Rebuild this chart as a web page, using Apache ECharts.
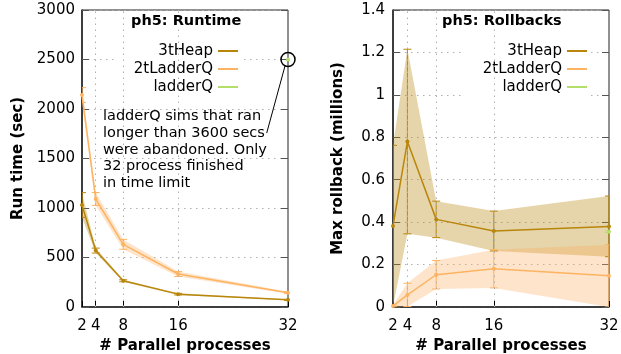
<!DOCTYPE html>
<html><head><meta charset="utf-8">
<script src="https://cdn.jsdelivr.net/npm/echarts@6/dist/echarts.min.js"></script>
<style>html,body{margin:0;padding:0;background:#fff}#c{width:621px;height:354px}</style>
</head><body><div id="c"></div>
<script>
// ---- data ----
const procs = [2, 4, 8, 16, 32];
const xTicks = [2, 4, 8, 16, 32];
const seriesNames = ['3tHeap', '2tLadderQ', 'ladderQ'];
// Runtime (sec)
const rtHeap = [1030, 570, 265, 130, 72];
const rtHeapErr = [125, 25, 10, 8, 5];
const rtLadder2 = [2141, 1091, 633, 333, 145];
const rtLadder2Err = [75, 65, 50, 25, 10];
const rtLadderQX = [32];
const rtLadderQ = [2500];
// Rollbacks (millions)
const rbHeap = [0.382, 0.78, 0.413, 0.358, 0.38];
const rbHeapErr = [0.38, 0.435, 0.086, 0.094, 0.143];
const rbLadder2 = [0.005, 0.057, 0.152, 0.18, 0.147];
const rbLadder2Err = [0.005, 0.055, 0.067, 0.09, 0.147];
const rbLadderQX = [32];
const rbLadderQ = [0.355];
const rbLadderQErr = [0.004];
// annotation (data space)
const arrowFrom = [28.9, 1757];
const arrowTo = [31.6, 2444];
const noteLines = ['ladderQ sims that ran', 'longer than 3600 secs', 'were abandoned. Only', '32 process finished', 'in time limit'];

const FONT = 'DejaVu Sans';
const C_HEAP = '#b8860b', C_L2 = '#fdb462', C_LQ = '#b3de69';
const B_HEAP = 'rgba(184,134,11,0.35)', B_L2 = 'rgba(253,170,90,0.32)';
const GRID_DASH = {color: '#b0b0b0', type: [1.5, 4.5], width: 1};

function bandSeries(xs, ys, es, color, g) {
  const data = xs.map((x, i) => [x, ys[i] - es[i], ys[i] + es[i]]);
  return {type: 'custom', xAxisIndex: g, yAxisIndex: g * 2, clip: true, silent: true, z: 1,
    encode: {x: 0, y: [1, 2]}, data,
    renderItem(params, api) {
      if (params.dataIndex !== 0) return null;
      const up = data.map(d => api.coord([d[0], d[2]]));
      const lo = data.map(d => api.coord([d[0], d[1]])).reverse();
      return {type: 'polygon', shape: {points: up.concat(lo)}, style: {fill: color}};
    }};
}
function errSeries(xs, ys, es, color, g) {
  return {type: 'custom', xAxisIndex: g, yAxisIndex: g * 2, clip: true, silent: true, z: 3,
    encode: {x: 0, y: [1, 2]},
    data: xs.map((x, i) => [x, ys[i] - es[i], ys[i] + es[i]]),
    renderItem(params, api) {
      const lo = api.coord([api.value(0), api.value(1)]);
      const hi = api.coord([api.value(0), api.value(2)]);
      const w = 4, st = {stroke: color, lineWidth: 1};
      return {type: 'group', children: [
        {type: 'line', shape: {x1: lo[0], y1: lo[1], x2: hi[0], y2: hi[1]}, style: st},
        {type: 'line', shape: {x1: lo[0] - w, y1: lo[1], x2: lo[0] + w, y2: lo[1]}, style: st},
        {type: 'line', shape: {x1: hi[0] - w, y1: hi[1], x2: hi[0] + w, y2: hi[1]}, style: st}
      ]};
    }};
}
function lineSeries(name, xs, ys, color, g, extra) {
  return Object.assign({type: 'line', name, xAxisIndex: g, yAxisIndex: g * 2, z: 5,
    data: xs.map((x, i) => [x, ys[i]]), symbol: 'circle', symbolSize: 4, showSymbol: true,
    color, lineStyle: {color, width: 1.5}, itemStyle: {color}, emphasis: {disabled: true}, animation: false}, extra || {});
}
// vertical dotted grid lines at the inner x ticks
function vGridSeries(g) {
  return {type: 'line', xAxisIndex: g, yAxisIndex: g * 2, data: [], silent: true, z: 0,
    markLine: {silent: true, symbol: ['none', 'none'], label: {show: false}, animation: false,
      lineStyle: GRID_DASH, emphasis: {disabled: true},
      data: xTicks.slice(1, -1).map(v => ({xAxis: v}))}};
}

const grids = [
  {left: 82, right: 333, top: 10, bottom: 47},
  {left: 393, right: 12, top: 10, bottom: 47}
];
function xAxis(g) {
  return {type: 'value', gridIndex: g, min: 2, max: 32,
    name: '# Parallel processes', nameLocation: 'middle', nameGap: 29,
    nameTextStyle: {fontFamily: FONT, fontSize: 15, fontWeight: 'bold', color: '#000'},
    axisLine: {show: true, lineStyle: {color: '#222', width: 1.5}},
    axisTick: {show: true, inside: true, length: 6, customValues: xTicks, lineStyle: {color: '#000'}},
    axisLabel: {customValues: xTicks, fontFamily: FONT, fontSize: 15, color: '#000', margin: 12},
    splitLine: {show: false}};
}
function yAxis(g, name, max, interval, nameGap, margin) {
  return [{type: 'value', gridIndex: g, min: 0, max, interval, position: 'left',
    name, nameLocation: 'middle', nameGap,
    nameTextStyle: {fontFamily: FONT, fontSize: 15, fontWeight: 'bold', color: '#000'},
    axisLine: {show: true, lineStyle: {color: '#222', width: 1.5}},
    axisTick: {show: true, inside: true, length: 7, lineStyle: {color: '#555'}},
    axisLabel: {fontFamily: FONT, fontSize: 15, color: '#000', margin,
      formatter: v => String(+(+v).toFixed(2))},
    splitLine: {show: true, lineStyle: GRID_DASH}},
   {type: 'value', gridIndex: g, min: 0, max, interval, position: 'right',
    axisLine: {show: false}, axisLabel: {show: false}, splitLine: {show: false},
    axisTick: {show: true, inside: true, length: 7, lineStyle: {color: '#555'}}}];
}

const legendCommon = {data: seriesNames, orient: 'vertical', align: 'right', top: 42,
  itemWidth: 20, itemHeight: 2, icon: 'rect', itemGap: 0, padding: [0, 2, 0, 2],
  backgroundColor: '#fff', selectedMode: false,
  textStyle: {fontFamily: FONT, fontSize: 15, color: '#000', lineHeight: 18, width: 95, align: 'right'}};

const chart = echarts.init(document.getElementById('c'), null, {renderer: 'canvas'});
chart.setOption({
  animation: false,
  backgroundColor: '#fff',
  grid: grids.map(g => Object.assign({show: true, borderColor: '#222', borderWidth: 1,
    backgroundColor: 'transparent', containLabel: false, outerBoundsMode: 'none'}, g)),
  title: [
    {text: 'ph5: Runtime', left: 129, top: 14, padding: [0, 2], backgroundColor: '#fff',
      textStyle: {fontFamily: FONT, fontSize: 14.5, fontWeight: 'bold', color: '#000'}},
    {text: 'ph5: Rollbacks', left: 440, top: 14, padding: [0, 2], backgroundColor: '#fff',
      textStyle: {fontFamily: FONT, fontSize: 14.5, fontWeight: 'bold', color: '#000'}}
  ],
  legend: [Object.assign({right: 381}, legendCommon), Object.assign({right: 32}, legendCommon)],
  xAxis: [xAxis(0), xAxis(1)],
  yAxis: [].concat(yAxis(0, 'Run time (sec)', 3000, 500, 56, 7), yAxis(1, 'Max rollback (millions)', 1.4, 0.2, 47, 8)),
  graphic: [{type: 'text', left: 103, top: 108, z: 10,
    style: {text: noteLines.join('\n'), font: '14.5px "DejaVu Sans"', lineHeight: 16.7, fill: '#000'}}],
  series: [
    vGridSeries(0),
    vGridSeries(1),
    bandSeries(procs, rtLadder2, rtLadder2Err, B_L2, 0),
    bandSeries(procs, rtHeap, rtHeapErr, B_HEAP, 0),
    errSeries(procs, rtHeap, rtHeapErr, C_HEAP, 0),
    errSeries(procs, rtLadder2, rtLadder2Err, C_L2, 0),
    lineSeries('3tHeap', procs, rtHeap, C_HEAP, 0),
    lineSeries('2tLadderQ', procs, rtLadder2, C_L2, 0),
    lineSeries('ladderQ', rtLadderQX, rtLadderQ, C_LQ, 0, {
      markPoint: {silent: true, symbol: 'circle', symbolSize: 14, label: {show: false},
        itemStyle: {color: 'rgba(0,0,0,0)', borderColor: '#000', borderWidth: 1.5},
        data: [{coord: [rtLadderQX[0], rtLadderQ[0]]}]},
      markLine: {silent: true, symbol: ['none', 'arrow'], symbolSize: [0, 8], label: {show: false},
        lineStyle: {color: '#000', width: 1, type: 'solid'},
        data: [[{coord: arrowFrom}, {coord: arrowTo}]]}
    }),
    bandSeries(procs, rbHeap, rbHeapErr, B_HEAP, 1),
    bandSeries(procs, rbLadder2, rbLadder2Err, B_L2, 1),
    errSeries(procs, rbHeap, rbHeapErr, C_HEAP, 1),
    errSeries(procs, rbLadder2, rbLadder2Err, C_L2, 1),
    errSeries(rbLadderQX, rbLadderQ, rbLadderQErr, C_LQ, 1),
    lineSeries('3tHeap', procs, rbHeap, C_HEAP, 1),
    lineSeries('2tLadderQ', procs, rbLadder2, C_L2, 1),
    lineSeries('ladderQ', rbLadderQX, rbLadderQ, C_LQ, 1)
  ]
});
</script></body></html>
